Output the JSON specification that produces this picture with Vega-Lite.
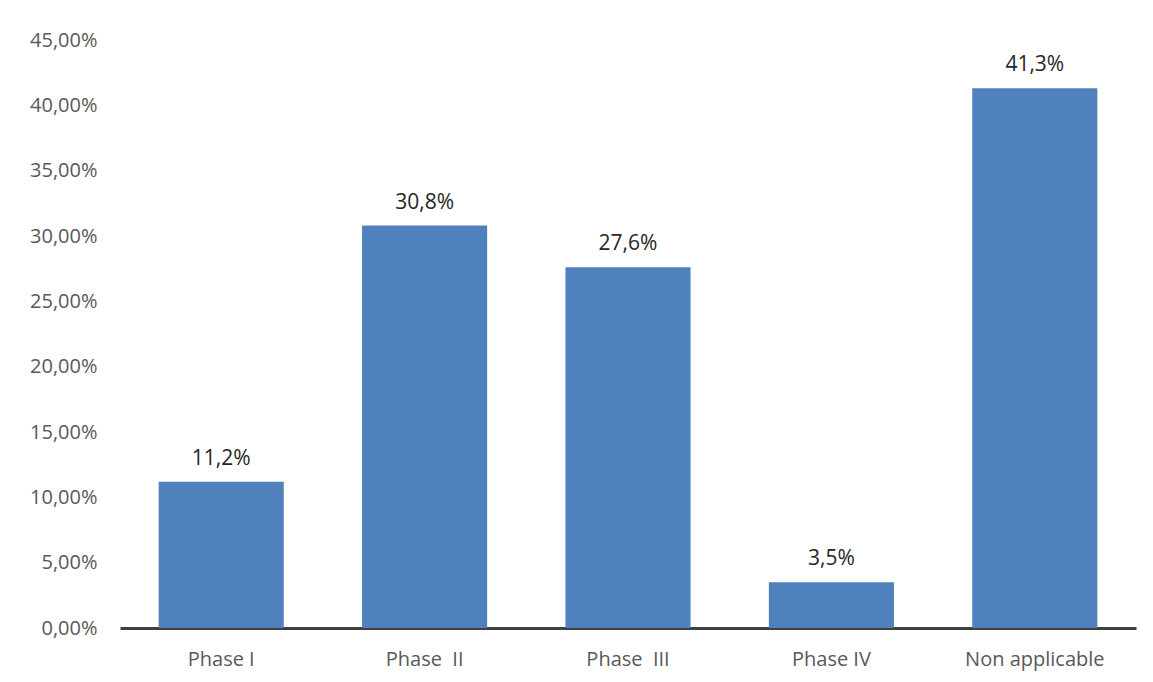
{
  "$schema": "https://vega.github.io/schema/vega-lite/v6.json",
  "autosize": "none",
  "width": 1016,
  "height": 588,
  "padding": {"left": 120, "top": 40, "right": 17, "bottom": 54},
  "background": "white",
  "config": {
    "view": {"stroke": null},
    "font": "Open Sans",
    "locale": {"number": {"decimal": ",", "thousands": ".", "grouping": [3], "currency": ["", " €"]}}
  },
  "data": {
    "values": [
      {"phase": "Phase I", "share": 0.112},
      {"phase": "Phase \u00a0II", "share": 0.308},
      {"phase": "Phase \u00a0III", "share": 0.276},
      {"phase": "Phase IV", "share": 0.035},
      {"phase": "Non applicable", "share": 0.413}
    ]
  },
  "encoding": {
    "x": {
      "field": "phase", "type": "nominal", "sort": null,
      "scale": {"paddingInner": 0.385, "paddingOuter": 0.19},
      "axis": {
        "title": null, "labelAngle": 0, "ticks": false,
        "domainColor": "#404040", "domainWidth": 3,
        "labelFont": "Open Sans", "labelFontSize": 20, "labelColor": "#595959",
        "labelPadding": 21
      }
    },
    "y": {
      "field": "share", "type": "quantitative",
      "scale": {"domain": [0, 0.45]},
      "axis": {
        "title": null, "format": ".2%", "values": [0, 0.05, 0.1, 0.15, 0.2, 0.25, 0.3, 0.35, 0.4, 0.45],
        "grid": false, "domain": false, "ticks": false,
        "labelFont": "Open Sans", "labelFontSize": 20, "labelColor": "#595959",
        "labelPadding": 23
      }
    }
  },
  "layer": [
    {"mark": {"type": "bar", "color": "#4F81BD"}},
    {
      "mark": {"type": "text", "baseline": "alphabetic", "dy": -17, "fontSize": 21, "color": "#262626", "font": "Open Sans"},
      "encoding": {"text": {"field": "share", "type": "quantitative", "format": ".1%"}}
    }
  ]
}
